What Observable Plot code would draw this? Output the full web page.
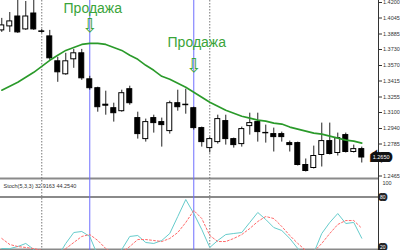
<!DOCTYPE html>
<html><head><meta charset="utf-8">
<script src="https://cdn.jsdelivr.net/npm/d3@7"></script>
<script src="https://cdn.jsdelivr.net/npm/@observablehq/plot@0.6"></script>
<style>
html,body{margin:0;padding:0;background:#fff;}
#chart{width:400px;height:250px;overflow:hidden;font-family:"Liberation Sans",Arial,sans-serif;}
#chart svg{display:block;}
#chart svg.main{overflow:visible;position:relative;z-index:2;}
</style></head><body><div id="chart"></div>
<script>
// Candles, index 0..45
const opens  = [1.3921,1.3961,1.4060,1.3931,1.4090,1.3911,1.3861,1.3612,1.3482,1.3632,1.3692,1.3432,1.3343,1.3178,1.3143,1.3113,1.3333,1.3044,1.2834,1.3044,1.3004,1.2914,1.3193,1.3178,1.3143,1.2944,1.2744,1.2804,1.3014,1.2834,1.2784,1.2964,1.3004,1.2896,1.2884,1.2884,1.2794,1.2794,1.2575,1.2545,1.2675,1.2814,1.2695,1.2874,1.2705,1.2734];
const highs  = [1.4041,1.4100,1.4220,1.4210,1.4220,1.3931,1.3921,1.3652,1.3692,1.3731,1.3731,1.3462,1.3353,1.3313,1.3193,1.3323,1.3363,1.3103,1.3034,1.3073,1.3044,1.3213,1.3323,1.3333,1.3153,1.2954,1.2854,1.3073,1.3073,1.2844,1.2954,1.3093,1.3093,1.2974,1.2944,1.2904,1.2814,1.2804,1.2635,1.2764,1.2994,1.2994,1.2894,1.2894,1.2774,1.2754];
const lows   = [1.3901,1.3901,1.3891,1.3921,1.3921,1.3891,1.3622,1.3402,1.3472,1.3542,1.3422,1.3323,1.3103,1.3073,1.3004,1.3103,1.3173,1.2834,1.2804,1.2894,1.2754,1.2884,1.3113,1.3083,1.2924,1.2754,1.2695,1.2784,1.2774,1.2744,1.2754,1.2874,1.2804,1.2794,1.2705,1.2804,1.2705,1.2565,1.2505,1.2535,1.2555,1.2675,1.2665,1.2695,1.2695,1.2595];
const closes = [1.3971,1.4011,1.3901,1.4060,1.3931,1.3906,1.3642,1.3502,1.3612,1.3692,1.3442,1.3343,1.3153,1.3168,1.3093,1.3293,1.3193,1.2884,1.3004,1.2994,1.2974,1.3193,1.3153,1.3173,1.2944,1.2804,1.2834,1.3034,1.2834,1.2774,1.2934,1.2994,1.2904,1.2892,1.2854,1.2854,1.2774,1.2575,1.2515,1.2665,1.2814,1.2685,1.2844,1.2705,1.2734,1.2650];
// Moving average
const maValues = [1.3323,1.3363,1.3402,1.3452,1.3502,1.3562,1.3622,1.3672,1.3721,1.3751,1.3781,1.3791,1.3791,1.3781,1.3751,1.3721,1.3672,1.3632,1.3572,1.3522,1.3462,1.3432,1.3392,1.3353,1.3303,1.3253,1.3203,1.3163,1.3123,1.3093,1.3063,1.3044,1.3024,1.3014,1.2994,1.2984,1.2954,1.2934,1.2914,1.2894,1.2884,1.2864,1.2844,1.2824,1.2814,1.2794];
// Stochastic (5,3,3)
const stochMain   = [21.1,21,23.4,26.9,20,10,8,12,26.9,39.4,40.6,34.9,13,8,12,20,34.9,36,28,26.9,30.3,38.3,57.7,77.1,61.1,42.9,22.3,30.3,37.1,38.3,39.4,50.9,62.3,54.3,45.1,41.7,32.6,21.1,12,16,38.3,50.9,61.1,49.7,50.9,32.9];
const stochSignal = [32.6,25.7,23.4,22.3,21.1,18.9,16.6,15.4,21,28,34.9,37.1,30.3,21.1,15,16.6,23.4,31.4,31.4,30.3,29.1,32.6,39.4,50.9,64.6,55.4,36,29.1,29.1,32.6,37.1,44,52,57.7,55.4,46.3,36,26.9,18.9,17.7,26.9,38.3,48.6,53.1,53.1,44.25];
// Signals
const sellIdx = [11, 24];
const sellLabelPrice = [1.4140, 1.3801];
const sellArrowPrice = [1.3961, 1.3562];
const sellText = "Продажа";
const separators = [5, 26];
const priceTicks = [1.42,1.4045,1.3885,1.373,1.357,1.3415,1.3255,1.31,1.294,1.2785,1.2465];
const stochUpper = [80];
const stochLower = [20];
const stochTitle = "Stoch(5,3,3) 32.9163 44.2540";

const candles = opens.map((o,i)=>({i, open:o, high:highs[i], low:lows[i], close:closes[i]}));
const ma = maValues.map((v,i)=>({i, v}));
const stoch = stochMain.map((m,i)=>({i, main:m, signal:stochSignal[i]}));
const signals = sellIdx.map((i,k)=>({i, label:sellLabelPrice[k], arrow:sellArrowPrice[k]}));
const lastClose = closes[closes.length-1];

const xScale = {domain:[-0.16, 47.09], range:[0, 378], axis:null};
const green = "#3aa43a";
const blue = "#6f6fff";
const font = "Liberation Sans, Arial, sans-serif";
const boxText = {frameAnchor:"right", y:d=>d, dx:7, text:d=>String(d), fill:"#fff", stroke:"#222", strokeWidth:4, strokeLinejoin:"miter", paintOrder:"stroke", fontSize:5};

const mainPlot = Plot.plot({
  className:"main",
  width:400, height:177, marginLeft:0, marginRight:22, marginTop:0, marginBottom:0,
  style:{fontFamily:font, fontSize:"5.5px", color:"#333", background:"transparent"},
  x: xScale,
  y: {domain:[1.2465,1.42], range:[175.5,2], axis:"right", ticks:priceTicks, tickFormat:".4f", tickSize:3, tickPadding:1.5, line:true, label:null},
  marks:[
    Plot.ruleX(separators, {stroke:"#777", strokeDasharray:"1.5,1.5"}),
    Plot.ruleX(sellIdx, {stroke:blue, strokeWidth:1}),
    Plot.ruleX(candles, {x:"i", y1:"low", y2:"high", stroke:"#222"}),
    Plot.rect(candles, {x1:d=>d.i-0.31, x2:d=>d.i+0.31, y1:"open", y2:"close", fill:d=>d.close>=d.open?"#fff":"#000", stroke:"#000", strokeWidth:1}),
    Plot.line(ma, {x:"i", y:"v", stroke:"#2a9a2a", strokeWidth:1.6}),
    Plot.text(signals, {x:"i", y:"label", text:d=>sellText, fill:green, fontSize:14, dx:3, fontFamily:font}),
    Plot.text(signals, {x:"i", y:"arrow", text:d=>"⇩", fill:green, fontSize:19, fontFamily:"DejaVu Sans"}),
    Plot.text([lastClose], {frameAnchor:"right", y:d=>d, text:d=>d3.format(".4f")(d), dx:11, fill:"#fff", stroke:"#111", strokeWidth:6, strokeLinejoin:"miter", paintOrder:"stroke", fontSize:5.5})
  ]
});

const stochPlot = Plot.plot({
  width:400, height:73, marginLeft:0, marginRight:22, marginTop:0, marginBottom:0,
  style:{fontFamily:font, fontSize:"5.5px", color:"#333", background:"#fff"},
  x: xScale,
  y: {domain:[0,100], range:[89.5,2], axis:"right", ticks:[], line:true, label:null},
  marks:[
    Plot.ruleY([100], {dy:-1, stroke:"#8a8a8a", strokeWidth:2}),
    Plot.ruleY(stochUpper.concat(stochLower), {stroke:"#8a8a8a", strokeWidth:2}),
    Plot.ruleX(separators, {stroke:"#777", strokeDasharray:"1.5,1.5"}),
    Plot.ruleX(sellIdx, {stroke:blue, strokeWidth:1}),
    Plot.line(stoch, {x:"i", y:"main", stroke:"#66cccc", strokeWidth:1}),
    Plot.line(stoch, {x:"i", y:"signal", stroke:"#ff6b6b", strokeWidth:1, strokeDasharray:"2,2"}),
    Plot.text([stochTitle], {frameAnchor:"top-left", dx:3, dy:7, text:d=>d, fill:"#333", fontSize:5.5, textAnchor:"start"}),
    Plot.text([100], {frameAnchor:"right", y:d=>d, dx:4, dy:4, textAnchor:"start", text:d=>String(d), fill:"#333", fontSize:5.5}),
    Plot.text(stochUpper, {...boxText, lineAnchor:"middle"}),
    Plot.text(stochLower, {...boxText, lineAnchor:"bottom", dy:-1})
  ]
});

const root = document.getElementById("chart");
root.appendChild(mainPlot);
root.appendChild(stochPlot);
</script>
</body></html>
